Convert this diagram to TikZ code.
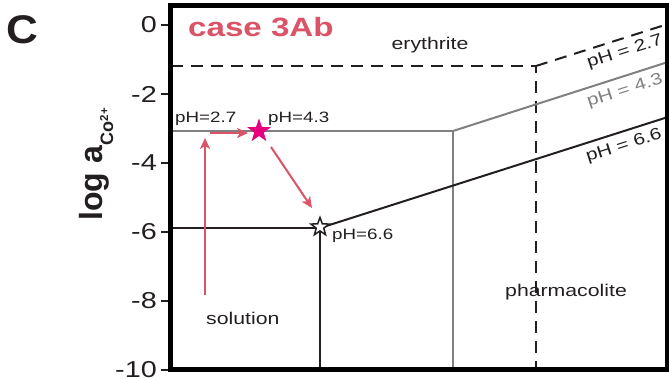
\documentclass[tikz,border=0pt]{standalone}
\usepackage{fontspec}
\setmainfont{Liberation Sans}
\newfontfamily\wf[FakeStretch=1.25]{Liberation Sans}
\newfontfamily\cf[FakeStretch=1.1]{Liberation Sans}
\usetikzlibrary{shapes.geometric,arrows.meta}
\definecolor{ink}{HTML}{231F20}
\definecolor{grayln}{HTML}{808080}
\definecolor{arr}{HTML}{DA5367}
\definecolor{mag}{HTML}{E6007E}
\tikzset{
  tl/.style={inner sep=0pt, anchor=east, text=ink, font=\wf\fontsize{23}{26}\selectfont},
  lbl/.style={inner sep=0pt, anchor=base west, text=ink, font=\wf\fontsize{17}{20}\selectfont},
  phs/.style={inner sep=0pt, anchor=base west, text=ink, font=\wf\fontsize{15}{18}\selectfont},
  phr/.style={inner sep=0pt, rotate=17.7, font=\wf\fontsize{16.5}{19}\selectfont},
  blk/.style={draw=ink, line width=2pt},
  gry/.style={draw=grayln, line width=2pt},
  dsh/.style={draw=ink, line width=2pt, dash pattern=on 12pt off 8pt},
  arrow/.style={draw=arr, line width=2pt, -{Stealth[length=11pt,width=10pt,inset=3pt]}},
  tickm/.style={draw=ink, line width=2pt},
}
\begin{document}
\begin{tikzpicture}[x=1pt,y=-1pt]
\useasboundingbox (0,0) rectangle (669,379);
% panel letter and case
\node[inner sep=0pt, anchor=base west, text=ink, font=\cf\bfseries\fontsize{40}{44}\selectfont] (C) at (6,44) {C};
\node[inner sep=0pt, anchor=base west, text=arr, font=\wf\bfseries\fontsize{26.5}{30}\selectfont] (case) at (188,37) {case 3Ab};
% y axis label
\node[inner sep=0pt, anchor=base west, rotate=90, text=ink, font=\bfseries\fontsize{32}{36}\selectfont] (yl) at (102,221) {log a};
\path (yl.base east) ++(11,0) node[inner sep=0pt, anchor=base west, rotate=90, text=ink, font=\bfseries\fontsize{18}{20}\selectfont] (yc) {Co};
\path (yc.base east) ++(-5,0) node[inner sep=0pt, anchor=base west, rotate=90, text=ink, font=\bfseries\fontsize{11.5}{13}\selectfont] (yp) {2+};
% ticks and tick labels
\foreach \v/\t in {0/0,2/-2,4/-4,6/-6,8/-8,10/-10}{
  \coordinate (ta\v) at (161,{25+34.5*\v});
  \coordinate (tb\v) at (170,{25+34.5*\v});
  \draw[tickm] (ta\v) -- (tb\v);
  \node[tl] (tl\v) at (157,{25+34.5*\v}) {\t};
}
% phase boundaries
\coordinate (d0) at (171,66); \coordinate (d1) at (536,66);
\coordinate (d2) at (536,370); \coordinate (d3) at (668,24);
\draw[dsh] (d0) -- (d1) -- (d2);
\draw[dsh] (d1) -- (d3);
\coordinate (g0) at (171,131); \coordinate (g1) at (453,131);
\coordinate (g2) at (453,370); \coordinate (g3) at (668,62);
\draw[gry] (g0) -- (g1) -- (g2);
\draw[gry] (g1) -- (g3);
\coordinate (b0) at (171,228); \coordinate (b1) at (320,228);
\coordinate (b2) at (320,370); \coordinate (b3) at (668,117);
\draw[blk] (b0) -- (b1) -- (b2);
\draw[blk] (b1) -- (b3);
% frame
\draw[draw=black, line width=4.5pt] (170.5,5.5) rectangle (667.5,369.5);
% field labels
\node[inner sep=0pt, anchor=base, text=ink, font=\wf\fontsize{17}{20}\selectfont] (ery) at (430,50) {erythrite};
\node[lbl] (pharm) at (505,297) {pharmacolite};
\node[lbl] (sol) at (206,324) {solution};
% pH labels
\node[phs] (p27) at (175,123) {pH=2.7};
\node[phs] (p43) at (268,123) {pH=4.3};
\node[phs] (p66) at (332,240) {pH=6.6};
\node[phr, text=ink] (r27) at (625,52) {pH = 2.7};
\node[phr, text=grayln] (r43) at (625,91) {pH = 4.3};
\node[phr, text=ink] (r66) at (624,146) {pH = 6.6};
% stars
\node[star, star points=5, star point ratio=2.5, fill=mag, minimum size=25pt, inner sep=0pt] (s1) at (259,131) {};
\node[star, star points=5, star point ratio=2.4, fill=white, draw=ink, line width=1.5pt, minimum size=19pt, inner sep=0pt] (s2) at (320,227) {};
% arrows
\coordinate (a0) at (205,295); \coordinate (a1) at (205,138);
\coordinate (h0) at (210,133); \coordinate (h1) at (248,133);
\coordinate (k0) at (271,147); \coordinate (k1) at (312,208);
\draw[arrow] (a0) -- (a1);
\draw[arrow] (h0) -- (h1);
\draw[arrow] (k0) -- (k1);
\end{tikzpicture}
\end{document}
